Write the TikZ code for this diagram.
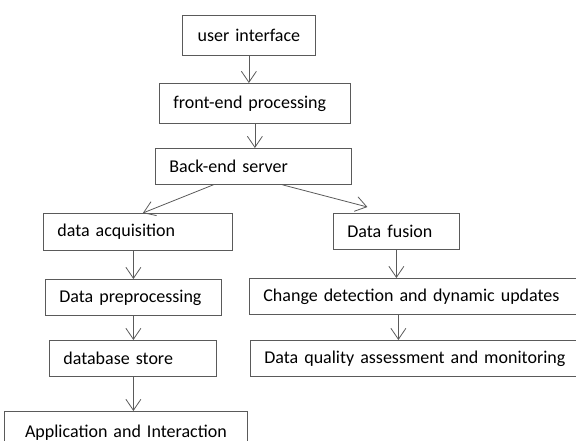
\documentclass[tikz,border=0pt]{standalone}
\usepackage{fontspec}
\setmainfont{Carlito}
\usepackage{tikz}
\usetikzlibrary{arrows.meta}
\definecolor{linegray}{RGB}{90,90,90}

\begin{document}
\begin{tikzpicture}[x=1pt, y=-1pt,
  box/.style={draw=linegray, line width=0.8pt, anchor=north west, inner xsep=14pt, inner ysep=0pt, align=left, font=\fontsize{18}{22}\selectfont},
  link/.style={->, linegray, line width=0.8pt},
  >={Straight Barb[length=11pt, width=15pt]}]
\useasboundingbox (0,0) rectangle (576,441);
\clip (0,0) rectangle (576,441);

\node[box, text width=105pt, minimum height=40pt, align=center] (ui) at (182,15) {user interface};
\node[box, text width=163pt, minimum height=40pt] (fe) at (159,83) {front-end processing};
\node[box, text width=168pt, minimum height=36pt] (be) at (155,148) {Back-end server};

\node[box, text width=161pt, minimum height=37pt] (da) at (43,213) {data acquisition};
\node[box, text width=148pt, minimum height=36pt] (dp) at (45,279) {Data preprocessing};
\node[box, text width=139pt, minimum height=36pt] (db) at (49,340) {database store};
\node[box, text width=215pt, minimum height=42pt, align=center] (app) at (4,411) {Application and Interaction};

\node[box, text width=98pt, minimum height=36pt] (df) at (333,213) {Data fusion};
\node[box, text width=312pt, minimum height=36pt] (cd) at (249,278) {Change detection and dynamic updates};
\node[box, text width=312pt, minimum height=36pt] (dq) at (250,340) {Data quality assessment and monitoring};

\draw[link] (ui.south) -- (ui.south |- fe.north);
\draw[link] (fe.south) -- (fe.south |- be.north);
\draw[link] ([xshift=-40pt]be.south) -- ([xshift=5pt]da.north);
\draw[link] ([xshift=29pt]be.south) -- ([xshift=-29pt, yshift=6pt]df.north);

\draw[link] (dp.north |- da.south) -- (dp.north);
\draw[link] (dp.south) -- (dp.south |- db.north);
\draw[link] ([xshift=0.5pt]db.south) -- ([xshift=0.5pt]db.south |- app.north);

\draw[link] (df.south) -- (df.south |- cd.north);
\draw[link] ([xshift=2pt]df.south |- cd.south) -- ([xshift=2pt]df.south |- dq.north);
\end{tikzpicture}
\end{document}
